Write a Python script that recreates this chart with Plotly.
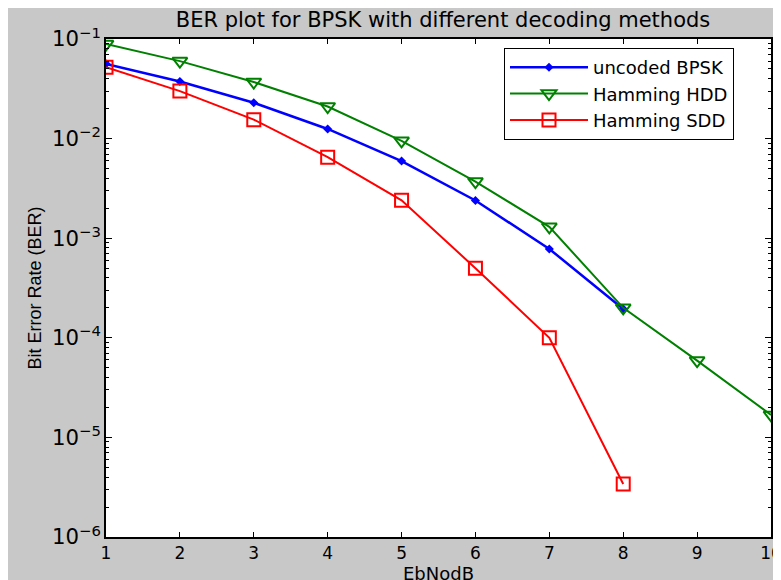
import plotly.graph_objects as go

ebno_uncoded = [1, 2, 3, 4, 5, 6, 7, 8]
ber_uncoded = [0.0563, 0.0375, 0.0229, 0.0125, 0.00595, 0.00239, 0.00078, 0.000195]

ebno_hdd = [1, 2, 3, 4, 5, 6, 7, 8, 9, 10]
ber_hdd = [0.089, 0.060, 0.037, 0.021, 0.0095, 0.0037, 0.0013, 0.0002, 0.000059, 0.0000168]

ebno_sdd = [1, 2, 3, 4, 5, 6, 7, 8]
ber_sdd = [0.052, 0.030, 0.0155, 0.0065, 0.0024, 0.0005, 0.0001, 0.0000034]

x_ticks = [1, 2, 3, 4, 5, 6, 7, 8, 9, 10]

W, H = 781, 580
OFF = 8  # page body margin offset
# target plot box in page pixels
PL, PR, PT, PB = 106, 771, 39, 537
L, T = PL - OFF, PT - OFF
R, B = W - (PR - OFF), H - (PB - OFF)
pw, ph = W - L - R, H - T - B


def px(xp):
    return (xp - OFF - L) / pw


def py(yp):
    return 1 - (yp - OFF - T) / ph


fig = go.Figure()
fig.add_trace(go.Scatter(x=ebno_uncoded, y=ber_uncoded, mode="lines+markers", name="uncoded BPSK",
                         line=dict(color="#0000ff", width=2.5),
                         marker=dict(symbol="diamond", size=7, color="#0000ff")))
fig.add_trace(go.Scatter(x=ebno_hdd, y=ber_hdd, mode="lines+markers", name="Hamming HDD",
                         line=dict(color="#008000", width=2),
                         marker=dict(symbol="triangle-down-open", size=13, color="#008000", line=dict(width=2))))
fig.add_trace(go.Scatter(x=ebno_sdd, y=ber_sdd, mode="lines+markers", name="Hamming SDD",
                         line=dict(color="#ff0000", width=2),
                         marker=dict(symbol="square-open", size=13, color="#ff0000", line=dict(width=2))))

tick_font = dict(family="DejaVu Sans", size=17, color="#000000")
fig.update_layout(
    width=W, height=H,
    margin=dict(l=L, r=R, t=T, b=B),
    paper_bgcolor="#c8c8c8", plot_bgcolor="#ffffff",
    title=dict(text="BER plot for BPSK with different decoding methods", x=(443 - OFF) / W, xanchor="center",
               xref="container", y=1 - (20 - OFF) / H, yref="container", yanchor="middle",
               font=dict(family="DejaVu Sans", size=21, color="#000000")),
    showlegend=True,
    legend=dict(x=px(504), y=py(48), xanchor="left", yanchor="top", bgcolor="#ffffff",
                bordercolor="#000000", borderwidth=1, itemwidth=78, tracegroupgap=0,
                font=dict(family="DejaVu Sans", size=18, color="#000000")),
    xaxis=dict(range=[1, 10], tickvals=x_ticks, ticks="inside", ticklen=5, tickcolor="#000000",
               showline=True, linecolor="#000000", linewidth=1.5, mirror="ticks", showgrid=False, zeroline=False,
               automargin=False, tickfont=tick_font,
               title=dict(text="EbNodB", font=dict(family="DejaVu Sans", size=18, color="#000000"), standoff=0)),
    yaxis=dict(type="log", range=[-6, -1], dtick=1, exponentformat="power", ticks="inside", ticklen=6,
               tickcolor="#000000", showline=True, linecolor="#000000", linewidth=1.5, mirror="ticks",
               showgrid=False, zeroline=False, automargin=False,
               minor=dict(ticks="inside", ticklen=3, tickcolor="#000000", showgrid=False),
               tickfont=tick_font,
               title=dict(text="Bit Error Rate (BER)", font=dict(family="Liberation Sans", size=18, color="#000000"), standoff=6)),
)
fig.write_html("out.html")
